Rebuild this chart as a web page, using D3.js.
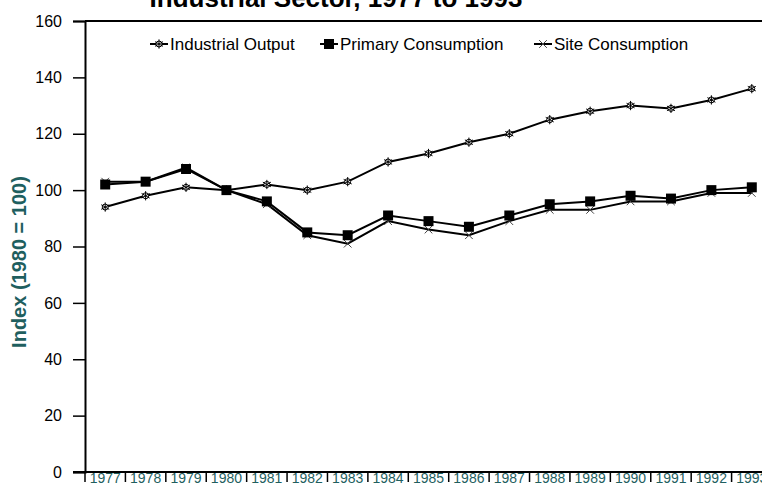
<!DOCTYPE html>
<html>
<head>
<meta charset="utf-8">
<script src="https://cdn.jsdelivr.net/npm/d3@7"></script>
<style>
  body { margin: 0; background: #fff; }
  svg { display: block; font-family: Arial, "Liberation Sans", sans-serif; }
</style>
</head>
<body>
<svg id="chart" width="762" height="483"></svg>
<script>
const years = ['1977', '1978', '1979', '1980', '1981', '1982', '1983', '1984', '1985',
               '1986', '1987', '1988', '1989', '1990', '1991', '1992', '1993'];
const industrialOutput = [94, 98, 101, 100, 102, 100, 103, 110, 113, 117, 120, 125, 128, 130, 129, 132, 136];
const primaryConsumption = [102, 103, 107.5, 100, 96, 85, 84, 91, 89, 87, 91, 95, 96, 98, 97, 100, 101];
const siteConsumption = [103, 103, 108, 100, 95, 84, 81, 89, 86, 84, 89, 93, 93, 96, 96, 99, 99];
const yTicks = [0, 20, 40, 60, 80, 100, 120, 140, 160];
const seriesNames = ['Industrial Output', 'Primary Consumption', 'Site Consumption'];

const svg = d3.select('#chart');
const teal = '#1f5f5f';

const x = d3.scaleBand().domain(years).range([85, 772]);
const y = d3.scaleLinear().domain([0, 160]).range([472, 21]);
const cx = d => x(d) + x.bandwidth() / 2;

// title, cut off by the top edge like in the source
svg.append('text')
    .attr('x', 336)
    .attr('y', 7)
    .attr('text-anchor', 'middle')
    .style('font-size', '26px')
    .style('font-weight', 'bold')
    .text('Industrial Sector, 1977 to 1993');

// plot frame top line
svg.append('line')
    .attr('x1', 85).attr('x2', 772)
    .attr('y1', y(160)).attr('y2', y(160))
    .attr('stroke', '#000').attr('stroke-width', 2);

// y axis
const yAxis = svg.append('g')
    .attr('transform', 'translate(85,0)')
    .call(d3.axisLeft(y).tickValues(yTicks).tickSize(12).tickPadding(11));
yAxis.select('.domain').attr('stroke-width', 2);
yAxis.selectAll('.tick line').attr('stroke-width', 1.5);
yAxis.selectAll('.tick text')
    .style('font-size', '16px')
    .style('font-family', 'Arial, "Liberation Sans", sans-serif')
    .attr('fill', '#000');

// y axis title
svg.append('text')
    .attr('transform', 'translate(26,262) rotate(-90)')
    .attr('text-anchor', 'middle')
    .attr('fill', teal)
    .style('font-size', '20px')
    .style('font-weight', 'bold')
    .text('Index (1980 = 100)');

// x axis line
svg.append('line')
    .attr('x1', 73).attr('x2', 772)
    .attr('y1', y(0)).attr('y2', y(0))
    .attr('stroke', '#000').attr('stroke-width', 2);

// separators between categories
svg.append('g').selectAll('line')
    .data(years.concat(['end']))
    .join('line')
    .attr('x1', (d, i) => 85 + i * x.bandwidth())
    .attr('x2', (d, i) => 85 + i * x.bandwidth())
    .attr('y1', y(0))
    .attr('y2', y(0) + 10)
    .attr('stroke', '#000')
    .attr('stroke-width', 1.5);

svg.append('g').selectAll('text')
    .data(years)
    .join('text')
    .attr('x', d => cx(d))
    .attr('y', 483)
    .attr('text-anchor', 'middle')
    .attr('fill', teal)
    .style('font-size', '14px')
    .text(d => d);

// series
const line = d3.line().x((d, i) => cx(years[i])).y(d => y(d));

function starMarker(g) {
    g.append('circle').attr('r', 3).attr('fill', '#fff').attr('stroke', '#000').attr('stroke-width', 1);
    g.append('path')
        .attr('d', d3.symbol(d3.symbolAsterisk, 60)())
        .attr('fill', 'none').attr('stroke', '#000').attr('stroke-width', 1);
}
function squareMarker(g) {
    g.append('path')
        .attr('d', d3.symbol(d3.symbolSquare, 100)())
        .attr('fill', '#000');
}
function xMarker(g) {
    g.append('path')
        .attr('d', d3.symbol(d3.symbolX, 40)())
        .attr('fill', 'none').attr('stroke', '#444').attr('stroke-width', 1);
}

const series = [
    { name: seriesNames[0], values: industrialOutput, marker: starMarker },
    { name: seriesNames[2], values: siteConsumption, marker: xMarker },
    { name: seriesNames[1], values: primaryConsumption, marker: squareMarker }
];

series.forEach(s => {
    svg.append('path')
        .datum(s.values)
        .attr('d', line)
        .attr('fill', 'none')
        .attr('stroke', '#000')
        .attr('stroke-width', 2);
    s.values.forEach((v, i) => {
        const g = svg.append('g').attr('transform', `translate(${cx(years[i])},${y(v)})`);
        s.marker(g);
    });
});

// legend
const legendItems = [
    { name: seriesNames[0], x: 150, marker: starMarker },
    { name: seriesNames[1], x: 320, marker: squareMarker },
    { name: seriesNames[2], x: 534, marker: xMarker }
];
legendItems.forEach(d => {
    const g = svg.append('g').attr('transform', `translate(${d.x},44)`);
    g.append('line').attr('x1', 0).attr('x2', 18).attr('stroke', '#000').attr('stroke-width', 2);
    const m = g.append('g').attr('transform', 'translate(9,0)');
    d.marker(m);
    g.append('text')
        .attr('x', 20)
        .attr('y', 6)
        .style('font-size', '17px')
        .text(d.name);
});
</script>
</body>
</html>
